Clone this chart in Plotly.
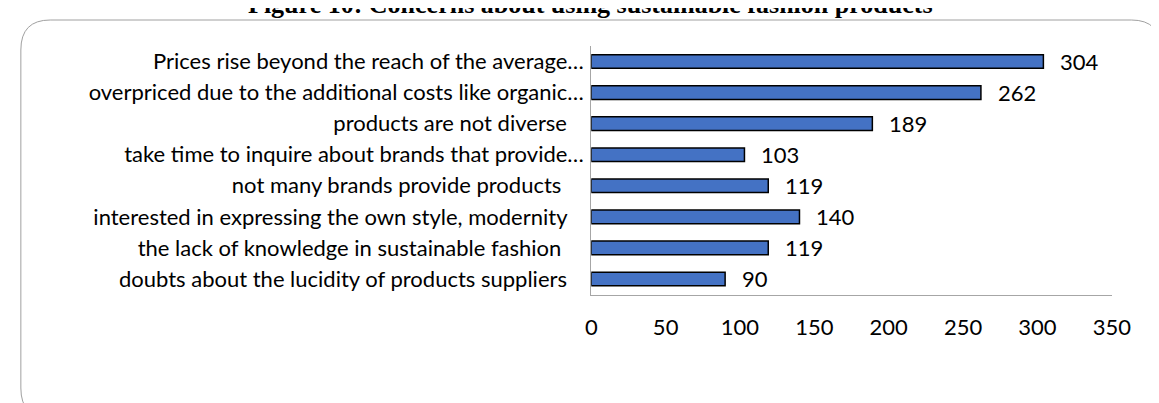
import plotly.graph_objects as go

W, H = 1159, 403

categories = [
    "Prices rise beyond the reach of the average…",
    "overpriced due to the additional costs like organic…",
    "products are not diverse\u00a0\u00a0\u00a0",
    "take time to inquire about brands that provide…",
    "not many brands provide products\u00a0\u00a0\u00a0\u00a0",
    "interested in expressing the own style, modernity\u00a0\u00a0\u00a0",
    "the lack of knowledge in sustainable fashion\u00a0\u00a0\u00a0\u00a0",
    "doubts about the lucidity of products suppliers\u00a0\u00a0\u00a0",
]
values = [304, 262, 189, 103, 119, 140, 119, 90]
x_ticks = [0, 50, 100, 150, 200, 250, 300, 350]

title_text = "Figure 10: Concerns about using sustainable fashion products"

FONT = "Lato"


def px_x(p):
    return p / W


def px_y(p):
    return 1 - p / H


fig = go.Figure()
fig.add_trace(go.Bar(
    x=values, y=categories, orientation="h",
    marker=dict(color="#4472C4", line=dict(color="#000000", width=1.5)),
    hoverinfo="skip",
))

# value labels right of each bar
for cat, v in zip(categories, values):
    fig.add_annotation(
        x=v, y=cat, xref="x", yref="y", text=str(v),
        showarrow=False, xanchor="left", xshift=15,
        font=dict(family=FONT, size=22, color="#000000"),
    )

# rounded chart border
x0, x1, y0, y1, r = px_x(7), px_x(1172), px_y(12), px_y(410), 30
rx, ry = r / W, r / H
path = (
    f"M {x0 + rx},{y0} L {x1 - rx},{y0} Q {x1},{y0} {x1},{y0 - ry} "
    f"L {x1},{y1 + ry} Q {x1},{y1} {x1 - rx},{y1} "
    f"L {x0 + rx},{y1} Q {x0},{y1} {x0},{y1 + ry} "
    f"L {x0},{y0 - ry} Q {x0},{y0} {x0 + rx},{y0} Z"
)
fig.add_shape(type="path", path=path, xref="paper", yref="paper",
              line=dict(color="#a0a0a0", width=1), layer="below")

# title (top is clipped in the original)
fig.add_annotation(
    x=px_x(589), y=px_y(13), xref="paper", yref="paper",
    text=f"<b>{title_text}</b>", showarrow=False,
    xanchor="center", yanchor="bottom",
    font=dict(family="Liberation Serif", size=26, color="#000000"),
)

fig.update_layout(
    width=W, height=H,
    margin=dict(l=0, r=0, t=0, b=0),
    paper_bgcolor="white", plot_bgcolor="white",
    showlegend=False,
    bargap=0.56,
    font=dict(family=FONT, size=22, color="#000000"),
    xaxis=dict(
        domain=[px_x(590), px_x(1122)],
        range=[0, 350], tickvals=x_ticks,
        showgrid=False, zeroline=False,
        showline=True, linecolor="#a6a6a6", linewidth=1,
        ticks="", ticklabelstandoff=13,
        tickfont=dict(family=FONT, size=22),
        fixedrange=True,
    ),
    yaxis=dict(
        domain=[px_y(286.5), px_y(38)],
        autorange="reversed",
        showgrid=False, zeroline=False,
        showline=True, linecolor="#a6a6a6", linewidth=1,
        ticks="", ticklabelstandoff=2,
        tickfont=dict(family=FONT, size=22),
        fixedrange=True,
    ),
)

fig.write_html("out.html")
